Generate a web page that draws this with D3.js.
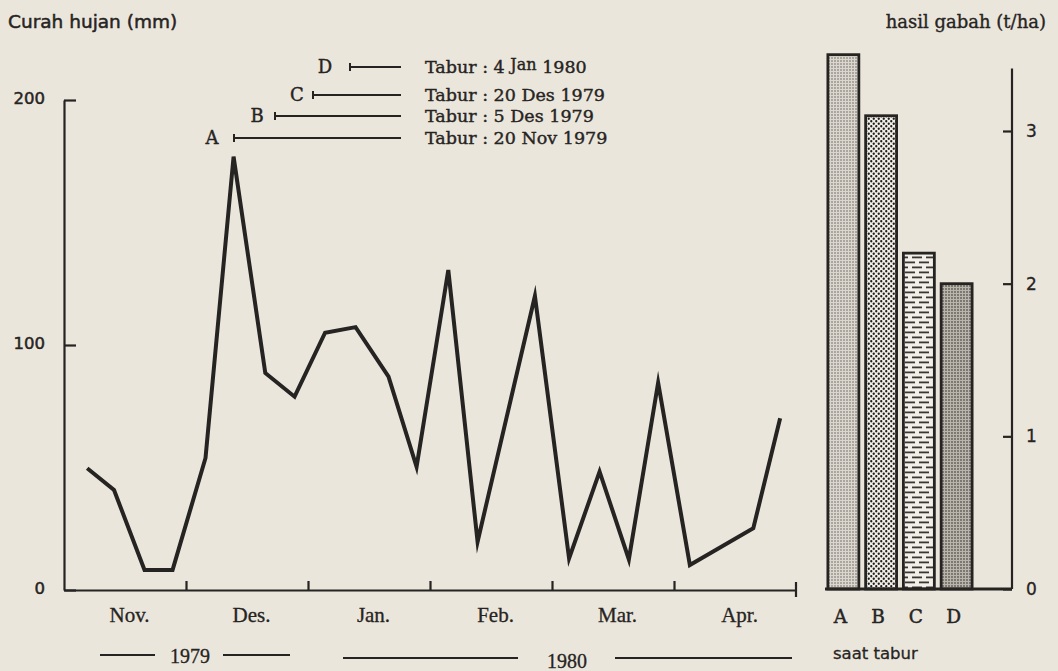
<!DOCTYPE html>
<html>
<head>
<meta charset="utf-8">
<script src="https://cdn.jsdelivr.net/npm/d3@7"></script>
<style>
  body { margin: 0; background: #ebe6dc; }
  svg { display: block; }
</style>
</head>
<body>
<div id="chart"></div>
<script>
//Canvas size
var width = 1058,
    height = 671;

//Rainfall. Time is in months counted from 1 Nov 1979
var rainTime = [0.19, 0.41, 0.66, 0.89, 1.16, 1.39, 1.65, 1.89, 2.14, 2.39, 2.66,
                2.89, 3.15, 3.39, 3.86, 4.14, 4.39, 4.63, 4.87, 5.13, 5.65, 5.87];
var rainMm = [49.7, 40.8, 8.2, 8.2, 53.9, 176.9, 88.6, 78.9, 105.0, 107.3, 87.1,
              50.3, 130.6, 19.7, 120.0, 12.9, 48.3, 12.5, 84.6, 10.2, 25.2, 70.1];
var monthLabels = ["Nov.", "Des.", "Jan.", "Feb.", "Mar.", "Apr."];
var rainTicks = [0, 100, 200];

//Sowing dates and grain yield
var sowLabels = ["A", "B", "C", "D"];
var sowDates = ["20 Nov 1979", "5 Des 1979", "20 Des 1979", "4 Jan 1980"];
var yieldTha = [3.5, 3.1, 2.2, 2.0];
var yieldTicks = [0, 1, 2, 3];

var ink = "#262422",
    serif = "'DejaVu Serif', serif",
    sans = "'DejaVu Sans', sans-serif",
    times = "'Liberation Serif', serif";

var svg = d3.select("#chart")
    .append("svg")
    .attr("width", width)
    .attr("height", height);

svg.append("rect")
    .attr("width", width)
    .attr("height", height)
    .attr("fill", "#ebe6dc");

// printed text in the scan is quite heavy, so give it a thin outline
function inked(sel, w) {
    sel.attr("fill", ink).attr("stroke", ink).attr("stroke-width", w);
}

// fill patterns for the four bars
var defs = svg.append("defs");

var pA = defs.append("pattern").attr("id", "patA")
    .attr("patternUnits", "userSpaceOnUse").attr("width", 3).attr("height", 3);
pA.append("rect").attr("width", 3).attr("height", 3).attr("fill", "#dcd7ce");
pA.append("circle").attr("cx", 1).attr("cy", 1).attr("r", 0.8).attr("fill", "#6b6660");

var pB = defs.append("pattern").attr("id", "patB")
    .attr("patternUnits", "userSpaceOnUse").attr("width", 5).attr("height", 5);
pB.append("rect").attr("width", 5).attr("height", 5).attr("fill", "#f1eee8");
pB.append("circle").attr("cx", 1.25).attr("cy", 1.25).attr("r", 1.15).attr("fill", "#1e1c1a");
pB.append("circle").attr("cx", 3.75).attr("cy", 3.75).attr("r", 1.15).attr("fill", "#1e1c1a");

var pC = defs.append("pattern").attr("id", "patC")
    .attr("patternUnits", "userSpaceOnUse").attr("width", 14).attr("height", 10)
    .attr("x", 903);
pC.append("rect").attr("width", 14).attr("height", 10).attr("fill", "#f2efe9");
pC.append("rect").attr("x", 2).attr("y", 1.5).attr("width", 10).attr("height", 1.8).attr("fill", "#3a3633");
pC.append("rect").attr("x", -5).attr("y", 6.5).attr("width", 10).attr("height", 1.8).attr("fill", "#3a3633");
pC.append("rect").attr("x", 9).attr("y", 6.5).attr("width", 10).attr("height", 1.8).attr("fill", "#3a3633");

var pD = defs.append("pattern").attr("id", "patD")
    .attr("patternUnits", "userSpaceOnUse").attr("width", 3).attr("height", 3);
pD.append("rect").attr("width", 3).attr("height", 3).attr("fill", "#b9b4ac");
pD.append("circle").attr("cx", 1).attr("cy", 1).attr("r", 0.9).attr("fill", "#5f5a55");

var patterns = ["url(#patA)", "url(#patB)", "url(#patC)", "url(#patD)"];

//---------------- rainfall chart ----------------
var x = d3.scaleLinear().domain([0, 6]).range([64, 796]);
var y = d3.scaleLinear().domain([0, 200]).range([590, 100]);

var yAxis = svg.append("g")
    .attr("transform", "translate(" + x(0) + ",0)")
    .call(d3.axisLeft(y).tickValues(rainTicks).tickSizeInner(-12).tickSizeOuter(0).tickPadding(19));

var xAxis = svg.append("g")
    .attr("transform", "translate(0," + y(0) + ")")
    .call(d3.axisBottom(x).tickValues([1, 2, 3, 4, 5]).tickSizeInner(-9).tickSizeOuter(0).tickFormat(""));

// closing tick at the right end of the time axis
xAxis.append("line")
    .attr("x1", x(6)).attr("x2", x(6))
    .attr("y1", -8).attr("y2", 7);

[yAxis, xAxis].forEach(function(g) {
    g.selectAll("path, line").attr("stroke", ink).attr("stroke-width", 2.2);
});
yAxis.selectAll("text")
    .call(inked, 0.5)
    .attr("dy", "0.2em")
    .style("font-family", sans)
    .style("font-size", "16.5px");

// month names centred in each month
var monthAxis = svg.append("g")
    .attr("transform", "translate(4," + y(0) + ")")
    .call(d3.axisBottom(x).tickValues([0.5, 1.5, 2.5, 3.5, 4.5, 5.5])
        .tickSize(0).tickPadding(17)
        .tickFormat(function(d) { return monthLabels[Math.floor(d)]; }));
monthAxis.select(".domain").remove();
monthAxis.selectAll("text")
    .call(inked, 0.3)
    .style("font-family", times)
    .style("font-size", "21px");

var rainLine = d3.line()
    .x(function(d, i) { return x(rainTime[i]); })
    .y(function(d) { return y(d); });

svg.append("path")
    .datum(rainMm)
    .attr("d", rainLine)
    .attr("fill", "none")
    .attr("stroke", ink)
    .attr("stroke-width", 4)
    .attr("stroke-linejoin", "miter")
    .attr("stroke-miterlimit", 6);

svg.append("text")
    .attr("x", 8).attr("y", 28)
    .call(inked, 0.5)
    .style("font-family", sans)
    .style("font-size", "18.5px")
    .text("Curah hujan (mm)");

// sowing date key above the line chart
var keyLayout = {
    rowY: [138, 116, 95, 67],
    letterX: [212, 257, 297, 325],
    lineStart: [234, 275, 313, 350],
    lineEnd: 401,
    textX: 425
};

var key = svg.selectAll(".key")
    .data(sowLabels)
    .enter().append("g")
    .attr("class", "key")
    .attr("transform", function(d, i) { return "translate(0," + keyLayout.rowY[i] + ")"; });

key.append("text")
    .attr("x", function(d, i) { return keyLayout.letterX[i]; })
    .attr("y", 6)
    .attr("text-anchor", "middle")
    .call(inked, 0.4)
    .style("font-family", serif)
    .style("font-size", "18px")
    .text(function(d) { return d; });

key.append("line")
    .attr("x1", function(d, i) { return keyLayout.lineStart[i]; })
    .attr("x2", keyLayout.lineEnd)
    .attr("stroke", ink).attr("stroke-width", 2);

key.append("line")
    .attr("x1", function(d, i) { return keyLayout.lineStart[i]; })
    .attr("x2", function(d, i) { return keyLayout.lineStart[i]; })
    .attr("y1", -4).attr("y2", 4)
    .attr("stroke", ink).attr("stroke-width", 2);

var keyText = key.append("text")
    .attr("x", keyLayout.textX)
    .attr("y", 6)
    .call(inked, 0.4)
    .style("font-family", serif)
    .style("font-size", "17.5px");

keyText.each(function(d, i) {
    var t = d3.select(this),
        parts = sowDates[i].split(" ");
    t.append("tspan").text("Tabur : " + parts[0] + " ");
    if (parts[1] === "Jan") {
        // the month is set a little high in the original
        t.append("tspan").attr("dy", -3).style("font-size", "16px").text(parts[1]);
        t.append("tspan").attr("dy", 3).text(" " + parts[2]);
    } else {
        t.append("tspan").text(parts[1] + " " + parts[2]);
    }
});

// year spans under the months
var years = [
    {label: "1979", x: 190, y: 655, dy: 8, left: [100, 155], right: [223, 290]},
    {label: "1980", x: 567, y: 658, dy: 10, left: [343, 518], right: [615, 792]}
];
var yearG = svg.selectAll(".year").data(years).enter().append("g").attr("class", "year");
yearG.append("text")
    .attr("x", function(d) { return d.x; })
    .attr("y", function(d) { return d.y + d.dy; })
    .attr("text-anchor", "middle")
    .call(inked, 0.3)
    .style("font-family", times)
    .style("font-size", "20px")
    .text(function(d) { return d.label; });
yearG.append("line")
    .attr("x1", function(d) { return d.left[0]; })
    .attr("x2", function(d) { return d.left[1]; })
    .attr("y1", function(d) { return d.y; })
    .attr("y2", function(d) { return d.y; })
    .attr("stroke", ink).attr("stroke-width", 2.2);
yearG.append("line")
    .attr("x1", function(d) { return d.right[0]; })
    .attr("x2", function(d) { return d.right[1]; })
    .attr("y1", function(d) { return d.y; })
    .attr("y2", function(d) { return d.y; })
    .attr("stroke", ink).attr("stroke-width", 2.2);

//---------------- yield bars ----------------
var xb = d3.scaleBand().domain(sowLabels).range([826, 974]).paddingInner(0.18).paddingOuter(0.05);
var yb = d3.scaleLinear().domain([0, 3]).range([589, 131]);

svg.selectAll(".bar")
    .data(yieldTha)
    .enter().append("rect")
    .attr("class", "bar")
    .attr("x", function(d, i) { return xb(sowLabels[i]); })
    .attr("y", function(d) { return yb(d); })
    .attr("width", xb.bandwidth())
    .attr("height", function(d) { return yb(0) - yb(d); })
    .attr("fill", function(d, i) { return patterns[i]; })
    .attr("stroke", ink)
    .attr("stroke-width", 2.8);

var rightX = 1012;
var yAxisR = svg.append("g")
    .attr("transform", "translate(" + rightX + ",0)")
    .call(d3.axisRight(yb).tickValues(yieldTicks).tickSizeInner(-9).tickSizeOuter(0)
        .tickPadding(14).tickFormat(d3.format("d")));
yAxisR.select(".domain").remove();
// axis runs a little above the 3 t/ha tick
yAxisR.append("line")
    .attr("y1", yb(3.41)).attr("y2", yb(0));
yAxisR.selectAll("line").attr("stroke", ink).attr("stroke-width", 2.2);
yAxisR.selectAll("text")
    .call(inked, 0.3)
    .style("font-family", sans)
    .style("font-size", "17px");

// base line of the bar panel
svg.append("line")
    .attr("x1", 825).attr("x2", rightX)
    .attr("y1", yb(0)).attr("y2", yb(0))
    .attr("stroke", ink).attr("stroke-width", 2.8);

svg.selectAll(".barLabel")
    .data(sowLabels)
    .enter().append("text")
    .attr("class", "barLabel")
    .attr("x", function(d) { return xb(d) + xb.bandwidth() / 2 - 3; })
    .attr("y", 623)
    .attr("text-anchor", "middle")
    .call(inked, 0.45)
    .style("font-family", serif)
    .style("font-size", "18.5px")
    .text(function(d) { return d; });

svg.append("text")
    .attr("x", 833).attr("y", 659)
    .call(inked, 0.3)
    .style("font-family", sans)
    .style("font-size", "16.5px")
    .text("saat tabur");

svg.append("text")
    .attr("x", 1046).attr("y", 28)
    .attr("text-anchor", "end")
    .call(inked, 0.35)
    .style("font-family", serif)
    .style("font-size", "18px")
    .text("hasil gabah (t/ha)");
</script>
</body>
</html>
